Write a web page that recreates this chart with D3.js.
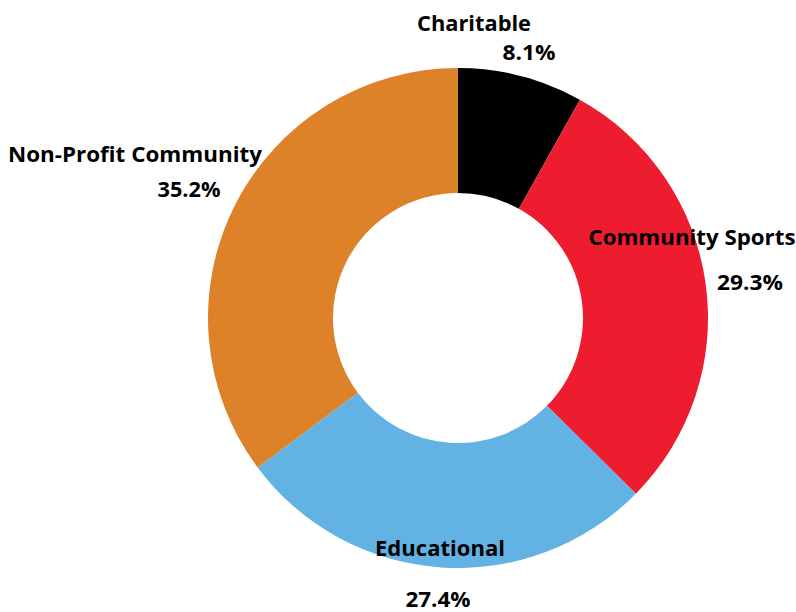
<!DOCTYPE html>
<html>
<head>
<meta charset="utf-8">
<script src="https://cdn.jsdelivr.net/npm/d3@7"></script>
<style>
	body { margin: 0; background: #fff; }
	text { font-family: "Open Sans", Lato, sans-serif; font-weight: bold; fill: #000; }
</style>
</head>
<body>
<svg id="chart"></svg>
<script>
const categories = ["Charitable", "Community Sports", "Educational", "Non-Profit Community"];
const shares = [8.1, 29.3, 27.4, 35.2];
const colors = ["#000000", "#ED1C2E", "#62B3E4", "#DD8229"];

// where each label sits (name line, then value line), and how wide it runs
const labelPos = [
	{ nx: 474, ny: 31, vx: 529, vy: 60, nw: 114, vw: 53 },
	{ nx: 692, ny: 245, vx: 750, vy: 290, nw: 207, vw: 66 },
	{ nx: 440, ny: 556, vx: 438, vy: 607, nw: 130, vw: 65 },
	{ nx: 135, ny: 162, vx: 189, vy: 197, nw: 254, vw: 63 }
];

let width = 796,
	height = 612,
	cx = 458,
	cy = 318,
	outer = 250,
	inner = 125;

let svg = d3.select("#chart").attr("width", width).attr("height", height);
let g = svg.append("g").attr("transform", `translate(${cx},${cy})`);

const color = d3.scaleOrdinal().domain(categories).range(colors);
let pie = d3.pie().sort(null).value(d => d.value);
let arc = d3.arc().innerRadius(inner).outerRadius(outer);

let data = categories.map((c, i) => ({ name: c, value: shares[i] }));

g.selectAll("path")
	.data(pie(data))
	.enter()
	.append("path")
	.attr("d", arc)
	.style("fill", d => color(d.data.name));

let labels = svg.selectAll(".lbl")
	.data(data)
	.enter()
	.append("g")
	.attr("class", "lbl");

labels.append("text")
	.attr("x", (d, i) => labelPos[i].nx)
	.attr("y", (d, i) => labelPos[i].ny)
	.attr("text-anchor", "middle")
	.attr("font-size", "22px")
	.attr("textLength", (d, i) => labelPos[i].nw)
	.attr("lengthAdjust", "spacingAndGlyphs")
	.text(d => d.name);

labels.append("text")
	.attr("x", (d, i) => labelPos[i].vx)
	.attr("y", (d, i) => labelPos[i].vy)
	.attr("text-anchor", "middle")
	.attr("font-size", "22px")
	.attr("textLength", (d, i) => labelPos[i].vw)
	.attr("lengthAdjust", "spacingAndGlyphs")
	.text(d => d.value.toFixed(1) + "%");
</script>
</body>
</html>
